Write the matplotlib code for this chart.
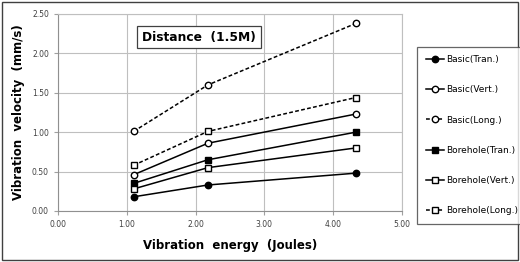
import matplotlib
matplotlib.use("Agg")
import matplotlib.pyplot as plt
from matplotlib.patches import Rectangle

# Energy levels (Joules)
energy = [1.10, 2.18, 4.33]

# Vibration velocity (mm/s) for each series
basic_tran = [0.18, 0.33, 0.48]
basic_vert = [0.46, 0.86, 1.23]
basic_long = [1.01, 1.60, 2.38]
bore_tran = [0.35, 0.65, 1.00]
bore_vert = [0.28, 0.55, 0.80]
bore_long = [0.58, 1.01, 1.44]

labels = ["Basic(Tran.)", "Basic(Vert.)", "Basic(Long.)",
          "Borehole(Tran.)", "Borehole(Vert.)", "Borehole(Long.)"]

fig = plt.figure(figsize=(5.2, 2.62), dpi=100)
ax = fig.add_axes([0.1115, 0.1947, 0.6615, 0.752])

# outer chart frame
fig.patches.append(Rectangle((0.004, 0.006), 0.992, 0.986, transform=fig.transFigure,
                             fill=False, edgecolor="#404040", linewidth=1.0))

series = [
    (basic_tran, "o", "black", "-"),
    (basic_vert, "o", "white", "-"),
    (basic_long, "o", "white", (0, (2.5, 1.5))),
    (bore_tran, "s", "black", "-"),
    (bore_vert, "s", "white", "-"),
    (bore_long, "s", "white", (0, (2.5, 1.5))),
]
for (vals, mk, fc, ls), lab in zip(series, labels):
    ax.plot(energy, vals, color="black", linestyle=ls, linewidth=1.1,
            marker=mk, markersize=4.6, markerfacecolor=fc,
            markeredgecolor="black", markeredgewidth=1.0, label=lab)

ax.set_xlim(0, 5)
ax.set_ylim(0, 2.5)
ax.set_xticks([0, 1, 2, 3, 4, 5])
ax.set_yticks([0, 0.5, 1.0, 1.5, 2.0, 2.5])
ax.xaxis.set_major_formatter(plt.FormatStrFormatter("%.2f"))
ax.yaxis.set_major_formatter(plt.FormatStrFormatter("%.2f"))
ax.tick_params(labelsize=5.5, colors="#404040", length=3, width=0.8)
ax.tick_params(axis="both", color="#a0a0a0")
ax.grid(True, color="#bfbfbf", linewidth=0.8)
ax.set_axisbelow(True)
for sp in ax.spines.values():
    sp.set_color("#bfbfbf")
    sp.set_linewidth(0.8)
ax.spines["left"].set_color("#909090")
ax.spines["bottom"].set_color("#909090")

ax.set_xlabel("Vibration  energy  (Joules)", fontsize=8.5, fontweight="bold", labelpad=7)
ax.set_ylabel("Vibration  velocity  (mm/s)", fontsize=8.5, fontweight="bold", labelpad=5)

ax.text(0.245, 0.883, "Distance  (1.5M)", transform=ax.transAxes, fontsize=8.8,
        fontweight="bold", va="center", ha="left",
        bbox=dict(boxstyle="square,pad=0.4", facecolor="white", edgecolor="#404040",
                  linewidth=0.9))

leg = fig.legend(loc="upper left", bbox_to_anchor=(0.802, 0.822), fontsize=6.5,
                 frameon=True, fancybox=False, handlelength=2.0, handletextpad=0.3,
                 labelspacing=2.35, borderpad=0.95, borderaxespad=0)
leg.get_frame().set_edgecolor("#404040")
leg.get_frame().set_linewidth(0.9)

fig.savefig("out.png", dpi=100)
